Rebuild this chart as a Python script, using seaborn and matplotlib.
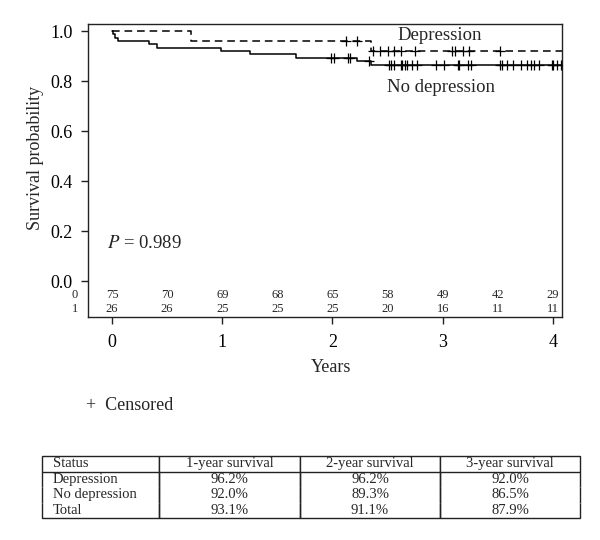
import numpy as np
import pandas as pd
import matplotlib
matplotlib.use("Agg")
import matplotlib.pyplot as plt
import seaborn as sns

# ---------------- data ----------------
# Kaplan-Meier step curves (time in years, survival probability)
nodep_time = [0.0, 0.01, 0.03, 0.05, 0.335, 0.41, 0.99, 1.25, 1.67, 2.225, 2.35, 4.1]
nodep_surv = [1.0, 0.987, 0.973, 0.960, 0.947, 0.933, 0.920, 0.907, 0.893, 0.879, 0.865, 0.865]
dep_time = [0.0, 0.715, 2.35, 4.1]
dep_surv = [1.0, 0.962, 0.920, 0.920]

# censoring times
nodep_cens = [1.99, 2.01, 2.14, 2.16, 2.33, 2.51, 2.53, 2.56, 2.62, 2.63, 2.66, 2.68,
              2.72, 2.77, 2.94, 3.01, 3.14, 3.15, 3.23, 3.26, 3.52, 3.54, 3.58, 3.64,
              3.71, 3.76, 3.80, 3.83, 3.87, 3.99, 4.00, 4.04, 4.07]
dep_cens = [2.12, 2.22, 2.37, 2.43, 2.50, 2.56, 2.62, 2.75, 3.08, 3.11, 3.18, 3.24, 3.52]

# numbers at risk
risk_times = [0, 0.5, 1, 1.5, 2, 2.5, 3, 3.5, 4]
risk_nodep = [75, 70, 69, 68, 65, 58, 49, 42, 29]
risk_dep = [26, 26, 25, 25, 25, 20, 16, 11, 11]
risk_groups = ["0", "1"]

xticks = [0, 1, 2, 3, 4]
yticks = [0.0, 0.2, 0.4, 0.6, 0.8, 1.0]

table_header = ["Status", "1-year survival", "2-year survival", "3-year survival"]
table_status = ["Depression", "No depression", "Total"]
table_y1 = ["96.2%", "92.0%", "93.1%"]
table_y2 = ["96.2%", "89.3%", "91.1%"]
table_y3 = ["92.0%", "86.5%", "87.9%"]

# ---------------- style ----------------
sns.set_theme(style="ticks")
plt.rcParams["font.family"] = ["Liberation Serif", "DejaVu Serif"]
plt.rcParams["mathtext.fontset"] = "stix"
plt.rcParams["axes.edgecolor"] = "#222222"
plt.rcParams["axes.linewidth"] = 1.0

W, H = 600, 540
fig = plt.figure(figsize=(W / 100, H / 100), dpi=100)
ax = fig.add_axes([88 / W, 1 - 317 / H, (562 - 88) / W, (317 - 24) / H])


def step_value(times, survs, t):
    idx = np.searchsorted(times, t, side="right") - 1
    return survs[idx]


nd = pd.DataFrame({"t": nodep_time, "s": nodep_surv})
dp = pd.DataFrame({"t": dep_time, "s": dep_surv})
sns.lineplot(data=nd, x="t", y="s", drawstyle="steps-post", color="black",
             lw=1.1, estimator=None, ax=ax)
sns.lineplot(data=dp, x="t", y="s", drawstyle="steps-post", color="black",
             lw=1.1, estimator=None, ax=ax)
ax.lines[-1].set_dashes([5, 3.2])

ndc = pd.DataFrame({"t": nodep_cens,
                    "s": [step_value(nodep_time, nodep_surv, t) for t in nodep_cens]})
dpc = pd.DataFrame({"t": dep_cens,
                    "s": [step_value(dep_time, dep_surv, t) for t in dep_cens]})
sns.scatterplot(data=ndc, x="t", y="s", marker="+", s=50, color="black",
                linewidth=0.9, ax=ax, zorder=3)
sns.scatterplot(data=dpc, x="t", y="s", marker="+", s=50, color="black",
                linewidth=0.9, ax=ax, zorder=3)

ax.set_xlim(-0.218, 4.082)
ax.set_ylim(-0.144, 1.028)
ax.set_xticks(xticks)
ax.set_xticklabels([str(v) for v in xticks])
ax.set_yticks(yticks)
ax.set_yticklabels([f"{v:.1f}" for v in yticks])
ax.tick_params(axis="both", direction="out", length=5, width=1.0,
               labelsize=13, colors="#222222", labelcolor="black")
ax.tick_params(axis="y", pad=6)
ax.tick_params(axis="x", pad=7)
for sp in ax.spines.values():
    sp.set_visible(True)
    sp.set_color("#222222")
    sp.set_linewidth(1.0)

# axis labels
ax.set_xlabel("Years", fontsize=13)
ax.xaxis.label.set_va("center")
ax.xaxis.set_label_coords(331 / W, 1 - 367 / H, transform=fig.transFigure)
ax.set_ylabel("Survival probability", fontsize=13)
ax.yaxis.label.set_va("center")
ax.yaxis.label.set_rotation_mode("default")
ax.yaxis.set_label_coords(35 / W, 1 - 158 / H, transform=fig.transFigure)

# curve labels and p-value
ax.text(2.97, 0.981, "Depression", fontsize=13.5, ha="center", va="center")
ax.text(2.98, 0.775, "No depression", fontsize=13.5, ha="center", va="center")
ax.text(-0.05, 0.15, r"$P$ = 0.989", fontsize=13.5, ha="left", va="center")

# numbers at risk
row_y = [-0.056, -0.112]
for gi, (g, vals) in enumerate(zip(risk_groups, [risk_nodep, risk_dep])):
    ax.text(-0.336, row_y[gi], g, fontsize=9, ha="center", va="center", clip_on=False)
    for t, v in zip(risk_times, vals):
        ax.text(t, row_y[gi], str(v), fontsize=9, ha="center", va="center")

# censored legend
fig.text(86 / W, 1 - 405 / H, "+  Censored", fontsize=13, ha="left", va="center")

# summary table
tax = fig.add_axes([42 / W, 1 - 518 / H, (580 - 42) / W, (518 - 456) / H])
tax.axis("off")
cells = [[table_status[i], table_y1[i], table_y2[i], table_y3[i]] for i in range(3)]
col_w = np.array([117, 141, 140, 140], dtype=float)
col_w = col_w / col_w.sum()
tbl = tax.table(cellText=cells, colLabels=table_header, colWidths=list(col_w),
                bbox=[0, 0, 1, 1], cellLoc="center")
tbl.auto_set_font_size(False)
nrows = len(cells) + 1
for (r, c), cell in tbl.get_celld().items():
    cell.set_fontsize(10.5)
    cell.set_linewidth(1.0)
    cell.set_edgecolor("#222222")
    cell.get_text().set_fontfamily(["Liberation Serif", "DejaVu Serif"])
    if c == 0:
        cell.get_text().set_ha("left")
        cell.PAD = 0.09
    if r == 0:
        cell.visible_edges = "closed"
    elif r == nrows - 1:
        cell.visible_edges = "BLR"
    else:
        cell.visible_edges = "LR"

fig.savefig("out.png", dpi=100)
